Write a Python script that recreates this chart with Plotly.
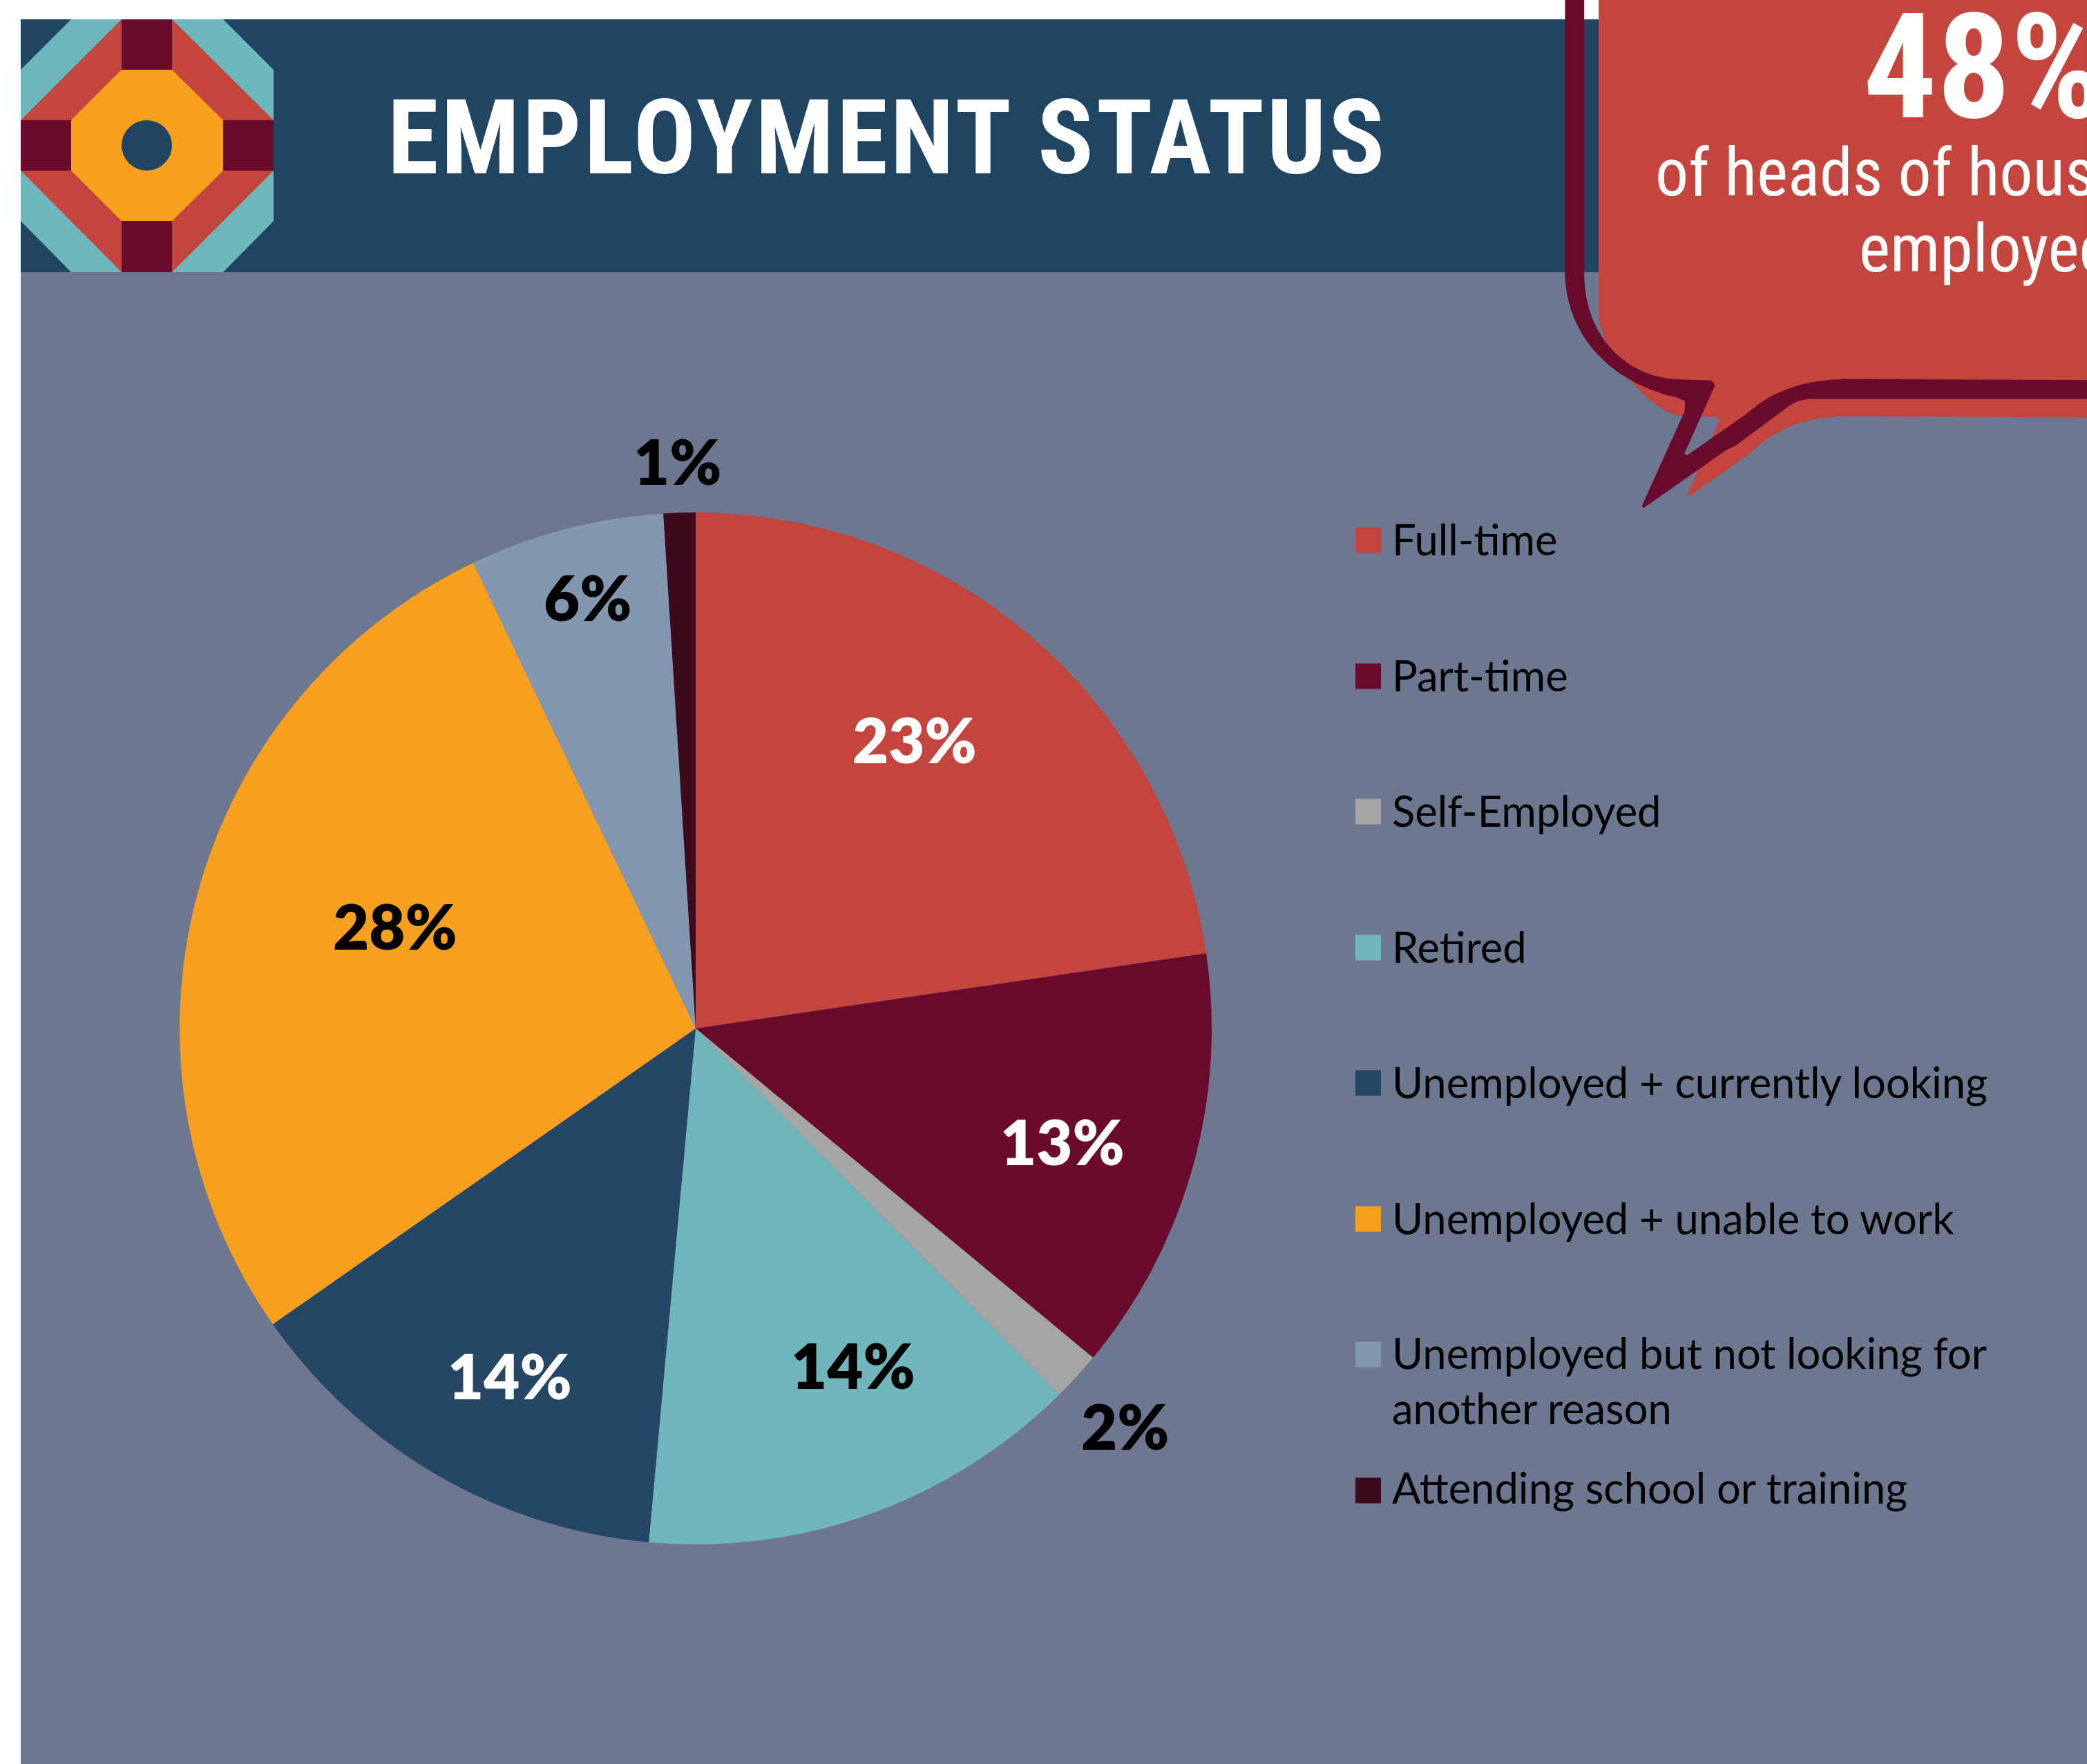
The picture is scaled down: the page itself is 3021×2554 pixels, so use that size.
import plotly.graph_objects as go

W, H = 3021, 2554

categories = ["Full-time", "Part-time", "Self-Employed", "Retired",
              "Unemployed + currently looking", "Unemployed + unable to work",
              "Unemployed but not looking for<br>another reason",
              "Attending school or training"]
values = [22.7, 13.35, 1.55, 13.9, 13.85, 27.65, 6.1, 1.0]
pct_labels = ["23%", "13%", "2%", "14%", "14%", "28%", "6%", "1%"]
slice_colors = ["#C4453D", "#6A0A2C", "#A5A5A5", "#6FB7BD",
                "#254664", "#F7A01F", "#8497B0", "#3B0A1D"]
label_colors = ["white", "white", "black", "black", "white", "black", "black", "black"]
label_xy = [(1324, 1070), (1538, 1652), (1628, 2064), (1235, 1976),
            (738, 1991), (572, 1340), (850, 864), (981, 667)]
legend_y = [782, 979, 1175, 1372, 1568, 1765, 1961, 2158]
legend_text_y = [780, 977, 1173, 1370, 1566, 1763, 1998, 2153]

NAVY, GRAY, RED, MAROON, TEAL, ORANGE = "#204562", "#6D778F", "#C4453D", "#6A0A2C", "#6DB6BC", "#F7A01F"
BODY_FONT = "Lato"
COND_FONT = "Roboto Condensed, Roboto"


def px(x):
    return x / W


def py(y):
    return 1 - y / H


def rect(x0, y0, x1, y1, c, kind="rect"):
    return dict(type=kind, xref="paper", yref="paper", x0=px(x0), x1=px(x1), y0=py(y0), y1=py(y1),
                fillcolor=c, line_width=0, layer="below")


def path(d, c):
    return dict(type="path", xref="paper", yref="paper", path=d, fillcolor=c, line_width=0, layer="below")


def poly(pts, c):
    return path("M " + " L ".join(f"{px(x):.5f},{py(y):.5f}" for x, y in pts) + " Z", c)


def z(x, y):
    # coordinates
    return f"{px(2200 + x / 1.91):.5f},{py(y / 2.063):.5f}"


def zpath(cmds):
    out = []
    for cmd in cmds:
        out.append(cmd[0] + " " + " ".join(z(*p) for p in cmd[1:]))
    return " ".join(out) + " Z"


shapes = [
    rect(30, 394, W, H, GRAY),
    rect(30, 28, W, 394, NAVY),
    poly([(103, 28), (323, 28), (396, 101), (396, 320), (323, 394), (103, 394), (30, 320), (30, 101)], TEAL),
    poly([(176, 28), (249, 28), (396, 174), (396, 247), (249, 394), (176, 394), (30, 247), (30, 174)], RED),
    rect(176, 28, 249, 101, MAROON),
    rect(30, 174, 103, 247, MAROON),
    rect(323, 174, 396, 247, MAROON),
    rect(176, 320, 249, 394, MAROON),
    poly([(176, 101), (249, 101), (323, 174), (323, 247), (249, 320), (176, 320), (103, 247), (103, 174)], ORANGE),
    rect(176, 174, 249, 247, NAVY, "circle"),
    # speech bubble body
    path(zpath([("M", (218, 0)), ("L", (218, 940)), ("C", (225, 1040), (330, 1200), (430, 1240)),
                ("L", (540, 1245)), ("L", (552, 1255)), ("L", (463, 1478)), ("L", (470, 1482)),
                ("L", (640, 1350)), ("C", (720, 1270), (800, 1243), (920, 1243)),
                ("L", (1568, 1247)), ("L", (1568, 0))]), RED),
    # speech bubble outline
    path(zpath([("M", (125, 0)), ("L", (125, 815)), ("C", (125, 960), (210, 1130), (435, 1188)),
                ("L", (457, 1198)), ("L", (455, 1230)), ("L", (337, 1512)), ("L", (343, 1517)),
                ("L", (570, 1345)), ("L", (598, 1330)), ("L", (750, 1208)), ("C", (770, 1197), (785, 1192), (805, 1192)),
                ("L", (1568, 1192)), ("L", (1568, 1135)), ("L", (900, 1132)),
                ("C", (770, 1135), (690, 1175), (625, 1238)), ("L", (462, 1360)), ("L", (455, 1355)),
                ("L", (540, 1150)), ("L", (530, 1136)), ("L", (440, 1133)),
                ("C", (300, 1130), (178, 1010), (178, 815)), ("L", (178, 0))]), MAROON),
]


def note(x, y, text, size, color, family, anchor="left", weight=400):
    return dict(x=px(x), y=py(y), xref="paper", yref="paper", text=text,
                showarrow=False, xanchor=anchor, yanchor="middle", borderpad=0, borderwidth=0,
                font=dict(size=size, color=color, family=family, weight=weight), align="left")


annotations = [
    note(561, 200, "EMPLOYMENT STATUS", 150, "white", COND_FONT, weight=700),
    note(2697, 98, "48%", 211, "white", COND_FONT, weight=700),
    note(2396, 250, "of heads of households", 96, "white", COND_FONT),
    note(2691, 360, "employed", 96, "white", COND_FONT),
]
for (x, y), t, c in zip(label_xy, pct_labels, label_colors):
    annotations.append(note(x, y, t, 90, c, BODY_FONT, anchor="center", weight=800))
for y, ty, t, c in zip(legend_y, legend_text_y, categories, slice_colors):
    shapes.append(rect(1962, y - 18.5, 1999, y + 18.5, c))
    annotations.append(note(2015, ty, t, 61.5, "black", BODY_FONT))

cx, cy, r = 1007, 1489, 747
fig = go.Figure(go.Pie(
    labels=categories, values=values, sort=False, direction="clockwise", rotation=0,
    marker=dict(colors=slice_colors, line=dict(width=0)), textinfo="none", showlegend=False,
    domain=dict(x=[px(cx - r), px(cx + r)], y=[py(cy + r), py(cy - r)]),
))
fig.update_layout(width=W, height=H, autosize=False, margin=dict(l=0, r=0, t=0, b=0),
                  paper_bgcolor="white", plot_bgcolor="white", shapes=shapes, annotations=annotations)
post = """
document.body.style.margin='0';
document.documentElement.style.overflow='hidden';
document.querySelectorAll('.annotation-text').forEach(function(t){
  if ((t.style.fontFamily||'').indexOf('Roboto')>=0){ t.style.fontStretch='75%'; }
  if (t.textContent==='EMPLOYMENT STATUS'){ t.style.letterSpacing='4px'; }
});
"""
fig.write_html("out.html", config={"displayModeBar": False}, post_script=post)
